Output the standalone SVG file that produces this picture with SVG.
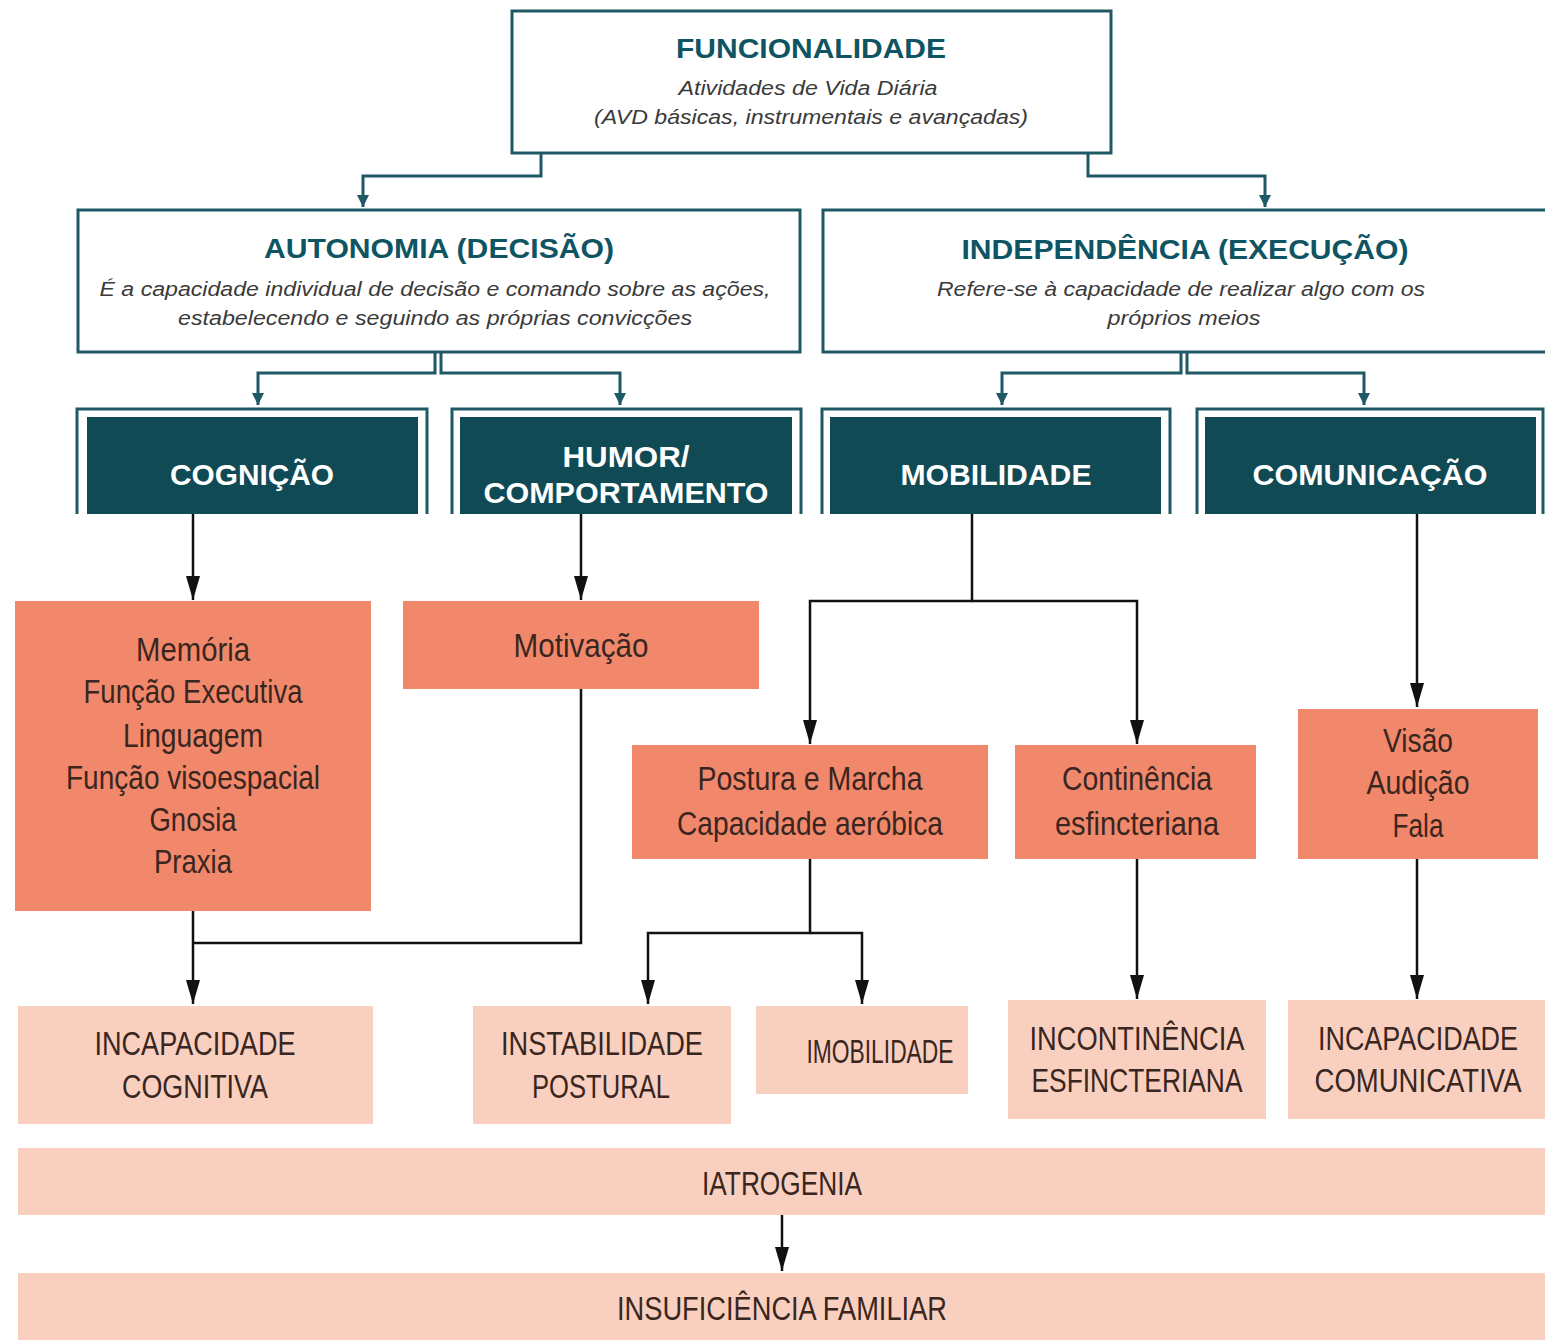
<svg xmlns="http://www.w3.org/2000/svg" width="1545" height="1340" viewBox="0 0 1545 1340">
<defs>
<style>
.wb{fill:#fff;stroke:#1e5965;stroke-width:3}
.ttl{font-family:"Liberation Sans",Arial,sans-serif;font-weight:bold;font-size:28px;fill:#0e5462;text-anchor:middle}
.sub{font-family:"Liberation Sans",Arial,sans-serif;font-style:italic;font-size:20px;fill:#3a3a3a;text-anchor:middle}
.frame{fill:none;stroke:#1e5965;stroke-width:3}
.dark{fill:#0f4a55}
.dt{font-family:"Liberation Sans",Arial,sans-serif;font-weight:bold;font-size:30px;fill:#ffffff;text-anchor:middle}
.sal{fill:#f2886b}
.lt{fill:#f9d0bf}
.ct{font-family:"Liberation Sans",Arial,sans-serif;font-size:33px;fill:#3a2620;text-anchor:middle}
.tc{fill:none;stroke:#1e5965;stroke-width:3}
.bc{fill:none;stroke:#111;stroke-width:2.5}
</style>
<marker id="ta" markerUnits="userSpaceOnUse" markerWidth="14" markerHeight="14" refX="12" refY="6" orient="auto">
<path d="M0,0 L12,6 L0,12 Z" fill="#1e5965"/>
</marker>
<marker id="ba" markerUnits="userSpaceOnUse" markerWidth="26" markerHeight="16" refX="24" refY="7" orient="auto">
<path d="M0,0 L24,7 L0,14 Z" fill="#111"/>
</marker>
</defs>
<rect width="1545" height="1340" fill="#fff"/>

<g id="funcionalidade">
<rect class="wb" x="512" y="11" width="599" height="142"/>
<text class="ttl" x="811" y="58" textLength="270" lengthAdjust="spacingAndGlyphs">FUNCIONALIDADE</text>
<text class="sub" x="808" y="95" textLength="259" lengthAdjust="spacingAndGlyphs">Atividades de Vida Diária</text>
<text class="sub" x="811" y="124" textLength="434" lengthAdjust="spacingAndGlyphs">(AVD básicas, instrumentais e avançadas)</text>
</g>

<g id="autonomia">
<rect class="wb" x="78" y="210" width="722" height="142"/>
<text class="ttl" x="439" y="258" textLength="350" lengthAdjust="spacingAndGlyphs">AUTONOMIA (DECISÃO)</text>
<text class="sub" x="435" y="296" textLength="671" lengthAdjust="spacingAndGlyphs">É a capacidade individual de decisão e comando sobre as ações,</text>
<text class="sub" x="435" y="325" textLength="514" lengthAdjust="spacingAndGlyphs">estabelecendo e seguindo as próprias convicções</text>
</g>

<g id="independencia">
<rect class="wb" x="823" y="210" width="730" height="142"/>
<text class="ttl" x="1185" y="259" textLength="447" lengthAdjust="spacingAndGlyphs">INDEPENDÊNCIA (EXECUÇÃO)</text>
<text class="sub" x="1181" y="296" textLength="488" lengthAdjust="spacingAndGlyphs">Refere-se à capacidade de realizar algo com os</text>
<text class="sub" x="1184" y="325" textLength="153" lengthAdjust="spacingAndGlyphs">próprios meios</text>
</g>

<g id="cognicao">
<path class="frame" d="M77,514 V409 H427 V514"/>
<rect class="dark" x="87" y="417" width="331" height="97"/>
<text class="dt" x="252" y="485" textLength="164" lengthAdjust="spacingAndGlyphs">COGNIÇÃO</text>
</g>

<g id="humor">
<path class="frame" d="M452,514 V409 H801 V514"/>
<rect class="dark" x="460" y="417" width="332" height="97"/>
<text class="dt" x="626" y="467" textLength="127" lengthAdjust="spacingAndGlyphs">HUMOR/</text>
<text class="dt" x="626" y="503" textLength="285" lengthAdjust="spacingAndGlyphs">COMPORTAMENTO</text>
</g>

<g id="mobilidade">
<path class="frame" d="M822,514 V409 H1170 V514"/>
<rect class="dark" x="830" y="417" width="331" height="97"/>
<text class="dt" x="996" y="485" textLength="191" lengthAdjust="spacingAndGlyphs">MOBILIDADE</text>
</g>

<g id="comunicacao">
<path class="frame" d="M1197,514 V409 H1543 V514"/>
<rect class="dark" x="1205" y="417" width="331" height="97"/>
<text class="dt" x="1370" y="485" textLength="235" lengthAdjust="spacingAndGlyphs">COMUNICAÇÃO</text>
</g>

<g id="cognitivas">
<rect class="sal" x="15" y="601" width="356" height="310"/>
<text class="ct" x="193" y="661" textLength="114" lengthAdjust="spacingAndGlyphs">Memória</text>
<text class="ct" x="193" y="703" textLength="219" lengthAdjust="spacingAndGlyphs">Função Executiva</text>
<text class="ct" x="193" y="747" textLength="140" lengthAdjust="spacingAndGlyphs">Linguagem</text>
<text class="ct" x="193" y="789" textLength="254" lengthAdjust="spacingAndGlyphs">Função visoespacial</text>
<text class="ct" x="193" y="831" textLength="87" lengthAdjust="spacingAndGlyphs">Gnosia</text>
<text class="ct" x="193" y="873" textLength="78" lengthAdjust="spacingAndGlyphs">Praxia</text>
</g>

<g id="motivacao">
<rect class="sal" x="403" y="601" width="356" height="88"/>
<text class="ct" x="581" y="657" textLength="135" lengthAdjust="spacingAndGlyphs">Motivação</text>
</g>

<g id="postura">
<rect class="sal" x="632" y="745" width="356" height="114"/>
<text class="ct" x="810" y="790" textLength="225" lengthAdjust="spacingAndGlyphs">Postura e Marcha</text>
<text class="ct" x="810" y="835" textLength="266" lengthAdjust="spacingAndGlyphs">Capacidade aeróbica</text>
</g>

<g id="continencia">
<rect class="sal" x="1015" y="745" width="241" height="114"/>
<text class="ct" x="1137" y="790" textLength="150" lengthAdjust="spacingAndGlyphs">Continência</text>
<text class="ct" x="1137" y="835" textLength="164" lengthAdjust="spacingAndGlyphs">esfincteriana</text>
</g>

<g id="sentidos">
<rect class="sal" x="1298" y="709" width="240" height="150"/>
<text class="ct" x="1418" y="752" textLength="70" lengthAdjust="spacingAndGlyphs">Visão</text>
<text class="ct" x="1418" y="794" textLength="103" lengthAdjust="spacingAndGlyphs">Audição</text>
<text class="ct" x="1418" y="837" textLength="51" lengthAdjust="spacingAndGlyphs">Fala</text>
</g>

<g id="incapacidade-cognitiva">
<rect class="lt" x="18" y="1006" width="355" height="118"/>
<text class="ct" x="195" y="1055" textLength="201" lengthAdjust="spacingAndGlyphs">INCAPACIDADE</text>
<text class="ct" x="195" y="1098" textLength="146" lengthAdjust="spacingAndGlyphs">COGNITIVA</text>
</g>

<g id="instabilidade-postural">
<rect class="lt" x="473" y="1006" width="258" height="118"/>
<text class="ct" x="602" y="1055" textLength="202" lengthAdjust="spacingAndGlyphs">INSTABILIDADE</text>
<text class="ct" x="601" y="1098" textLength="138" lengthAdjust="spacingAndGlyphs">POSTURAL</text>
</g>

<g id="imobilidade">
<rect class="lt" x="756" y="1006" width="212" height="88"/>
<text class="ct" x="880" y="1063" textLength="147" lengthAdjust="spacingAndGlyphs">IMOBILIDADE</text>
</g>

<g id="incontinencia">
<rect class="lt" x="1008" y="1000" width="258" height="119"/>
<text class="ct" x="1137" y="1050" textLength="215" lengthAdjust="spacingAndGlyphs">INCONTINÊNCIA</text>
<text class="ct" x="1137" y="1092" textLength="211" lengthAdjust="spacingAndGlyphs">ESFINCTERIANA</text>
</g>

<g id="incapacidade-comunicativa">
<rect class="lt" x="1288" y="1000" width="257" height="119"/>
<text class="ct" x="1418" y="1050" textLength="200" lengthAdjust="spacingAndGlyphs">INCAPACIDADE</text>
<text class="ct" x="1418" y="1092" textLength="207" lengthAdjust="spacingAndGlyphs">COMUNICATIVA</text>
</g>

<g id="iatrogenia">
<rect class="lt" x="18" y="1148" width="1527" height="67"/>
<text class="ct" x="782" y="1195" textLength="160" lengthAdjust="spacingAndGlyphs">IATROGENIA</text>
</g>

<g id="insuficiencia-familiar">
<rect class="lt" x="18" y="1273" width="1527" height="67"/>
<text class="ct" x="782" y="1320" textLength="330" lengthAdjust="spacingAndGlyphs">INSUFICIÊNCIA FAMILIAR</text>
</g>

<g id="connectors">
<path class="tc" d="M541,153 V176 H363 V207" marker-end="url(#ta)"/>
<path class="tc" d="M1088,153 V176 H1265 V207" marker-end="url(#ta)"/>
<path class="tc" d="M435,352 V373 H258 V405" marker-end="url(#ta)"/>
<path class="tc" d="M441,352 V373 H620 V405" marker-end="url(#ta)"/>
<path class="tc" d="M1181,352 V373 H1002 V405" marker-end="url(#ta)"/>
<path class="tc" d="M1187,352 V373 H1364 V405" marker-end="url(#ta)"/>
<path class="bc" d="M193,514 V600" marker-end="url(#ba)"/>
<path class="bc" d="M581,514 V600" marker-end="url(#ba)"/>
<path class="bc" d="M581,689 V943 H193"/>
<path class="bc" d="M193,911 V1004" marker-end="url(#ba)"/>
<path class="bc" d="M972,514 V601 H810 V744" marker-end="url(#ba)"/>
<path class="bc" d="M972,601 H1137 V744" marker-end="url(#ba)"/>
<path class="bc" d="M1417,514 V707" marker-end="url(#ba)"/>
<path class="bc" d="M810,859 V933 H648 V1004" marker-end="url(#ba)"/>
<path class="bc" d="M810,933 H862 V1004" marker-end="url(#ba)"/>
<path class="bc" d="M1137,859 V999" marker-end="url(#ba)"/>
<path class="bc" d="M1417,859 V999" marker-end="url(#ba)"/>
<path class="bc" d="M782,1215 V1271" marker-end="url(#ba)"/>
</g>
</svg>
